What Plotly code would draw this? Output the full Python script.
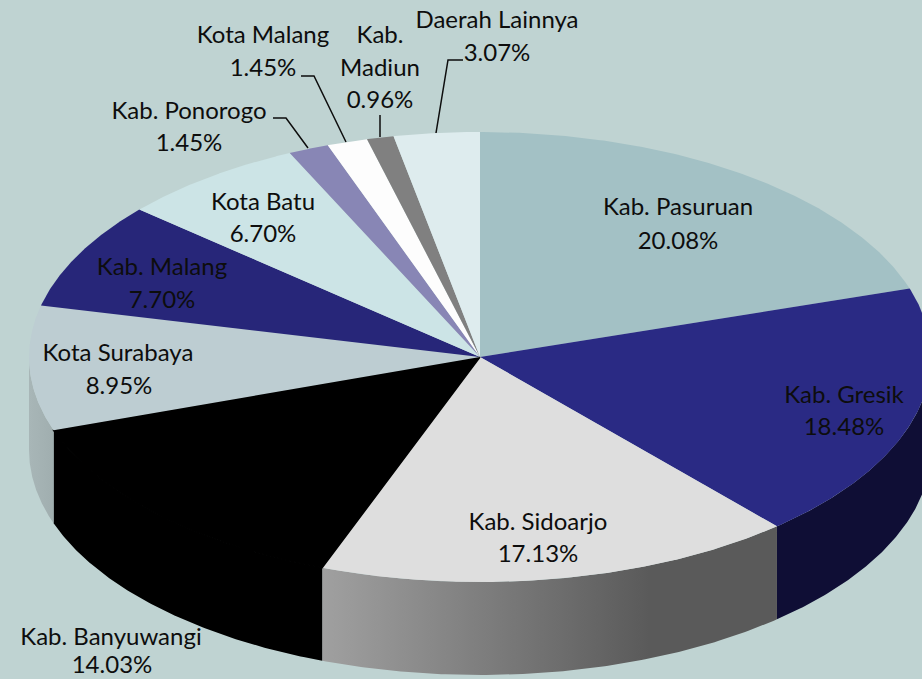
import numpy as np
import plotly.graph_objects as go

# ---- data ----
names = ["Kab. Pasuruan", "Kab. Gresik", "Kab. Sidoarjo", "Kab. Banyuwangi", "Kota Surabaya",
         "Kab. Malang", "Kota Batu", "Kab. Ponorogo", "Kota Malang", "Kab. Madiun", "Daerah Lainnya"]
values = [20.08, 18.48, 17.13, 14.03, 8.95, 7.70, 6.70, 1.45, 1.45, 0.96, 3.07]
top_colors = ["#A3C1C5", "#2A2A84", "#DEDEDE", "#000000", "#BDCDD2", "#272679",
              "#CCE4E6", "#8886B5", "#FDFDFD", "#808080", "#DEECEE"]
side_styles = {
    1: [[0, "#0F0E35"], [1, "#0F0E35"]],
    2: [[0, "#A0A0A0"], [0.72, "#5A5A5A"], [1, "#5A5A5A"]],
    3: [[0, "#000000"], [1, "#000000"]],
    4: [[0, "#A8B6B7"], [1, "#A0AEAF"]],
}
# label text lines, with centre positions in picture pixels
label_lines = [
    ("Kab. Pasuruan", 678, 209), ("20.08%", 678, 243),
    ("Kab. Gresik", 844, 397), ("18.48%", 844, 429),
    ("Kab. Sidoarjo", 538, 524), ("17.13%", 538, 556),
    ("Kab. Banyuwangi", 111, 639), ("14.03%", 112, 667),
    ("Kota Surabaya", 118, 355), ("8.95%", 119, 388),
    ("Kab. Malang", 162, 269), ("7.70%", 162, 302),
    ("Kota Batu", 263, 204), ("6.70%", 263, 236),
    ("Kab. Ponorogo", 189, 113), ("1.45%", 189, 145),
    ("Kota Malang", 263, 37), ("1.45%", 263, 70),
    ("Kab.", 380, 37), ("Madiun", 380, 70), ("0.96%", 380, 102),
    ("Daerah Lainnya", 497, 22), ("3.07%", 497, 55),
]
leaders = [
    ([273, 286, 308], [118, 118, 148]),
    ([301, 314, 346], [76, 76, 142]),
    ([380, 380], [115, 137]),
    ([463, 448, 436], [60, 60, 133]),
]

# ---- pie geometry ----
CX, CY, RX, RY, DEPTH = 480, 357, 451, 225, 93
BG = "#BFD3D2"
BLACK_SLICE = 3


def ellipse(deg):
    a = np.radians(deg)
    return CX + RX * np.sin(a), CY - RY * np.cos(a)


edges = np.concatenate([[0], np.cumsum(values)]) / sum(values) * 360
fig = go.Figure()

# side walls (front half of the rim only)
for i, scale in side_styles.items():
    a0, a1 = max(edges[i], 90), min(edges[i + 1], 270)
    t = np.linspace(a0, a1, 120)
    x, y = ellipse(t)
    px = np.concatenate([x, x[::-1], x[:1]])
    py = np.concatenate([y, y[::-1] + DEPTH, y[:1]])
    fig.add_trace(go.Scatter(
        x=px, y=py, mode="lines", line=dict(width=0), fill="toself",
        fillgradient=dict(type="horizontal", colorscale=scale),
        name=names[i], hoverinfo="skip", showlegend=False))

# top faces
for i, (nm, col) in enumerate(zip(names, top_colors)):
    t = np.linspace(edges[i], edges[i + 1], 160)
    x, y = ellipse(t)
    # the black slice gets a hairline so no seam shows against its black wall
    line = dict(width=1.5, color=col) if i == BLACK_SLICE else dict(width=0)
    fig.add_trace(go.Scatter(
        x=np.concatenate([[CX], x, [CX]]), y=np.concatenate([[CY], y, [CY]]),
        mode="lines", line=line, fill="toself", fillcolor=col,
        name=nm, text=f"{nm} {values[i]:.2f}%", hoverinfo="text", showlegend=False))

# leader lines
for lx, ly in leaders:
    fig.add_trace(go.Scatter(x=lx, y=ly, mode="lines", line=dict(color="#0D0D0D", width=1.5),
                             hoverinfo="skip", showlegend=False))

# labels
fig.add_trace(go.Scatter(
    x=[l[1] for l in label_lines], y=[l[2] for l in label_lines],
    text=[l[0] for l in label_lines], mode="text", textposition="middle center",
    textfont=dict(family="Lato", size=24, color="#0D0D0D"),
    cliponaxis=False, hoverinfo="skip", showlegend=False))

fig.update_layout(
    width=922, height=679, margin=dict(l=0, r=0, t=0, b=0),
    paper_bgcolor=BG, plot_bgcolor=BG, showlegend=False,
    xaxis=dict(range=[0, 922], visible=False, fixedrange=True),
    yaxis=dict(range=[679, 0], visible=False, fixedrange=True),
)
fig.write_html("out.html", config={"displayModeBar": False},
               post_script="document.body.style.margin='0';document.documentElement.style.background='" + BG + "';")
